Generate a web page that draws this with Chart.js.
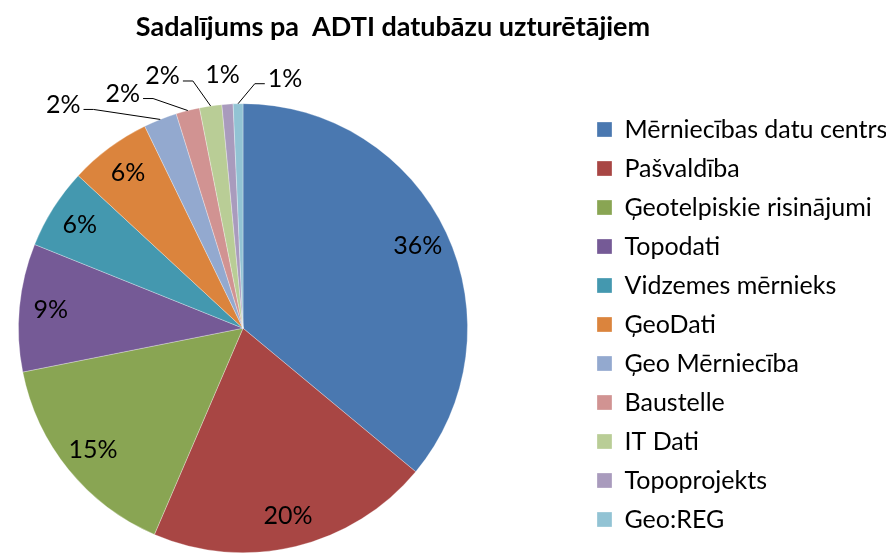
<!DOCTYPE html>
<html>
<head>
<meta charset="utf-8">
<title>Sadalījums pa ADTI datubāzu uzturētājiem</title>
<script src="https://cdn.jsdelivr.net/npm/chart.js"></script>
<style>
  html, body { margin: 0; padding: 0; background: #fff; }
  #wrap { width: 886px; height: 553px; }
</style>
</head>
<body>
<div id="wrap"><canvas id="pieChart"></canvas></div>

<script>
  // data (share of ADTI databases, %)
  const providers = ['Mērniecības datu centrs', 'Pašvaldība', 'Ģeotelpiskie risinājumi', 'Topodati',
    'Vidzemes mērnieks', 'ĢeoDati', 'Ģeo Mērniecība', 'Baustelle', 'IT Dati', 'Topoprojekts', 'Geo:REG'];
  const shares = [36, 20.4, 15.4, 9.2, 5.8, 5.9, 2.4, 1.7, 1.6, 0.8, 0.7];
  const shareLabels = ['36%', '20%', '15%', '9%', '6%', '6%', '2%', '2%', '2%', '1%', '1%'];

  const sliceColors = ['#4A78B0', '#A84644', '#89A553', '#755A96', '#4498AF', '#DB843D',
    '#93A9CF', '#D19392', '#B9CD96', '#A99BBD', '#92C3D4'];

  const FONT = 'Lato, "Open Sans", sans-serif';

  // where the small slice labels sit, relative to the slice's outer edge
  const outsideOffsets = [[-97, -15], [-65, -17], [-48, -30], [-5, -29], [47, -25]];

  const pctLabels = {
    id: 'pctLabels',
    afterDatasetsDraw(chart) {
      const ctx = chart.ctx;
      const arcs = chart.getDatasetMeta(0).data;
      ctx.save();
      ctx.font = '25px ' + FONT;
      ctx.fillStyle = '#000';
      ctx.strokeStyle = '#000';
      ctx.lineWidth = 1;
      ctx.textBaseline = 'middle';
      ctx.textAlign = 'center';
      arcs.forEach((arc, i) => {
        const p = arc.getProps(['x', 'y', 'outerRadius', 'startAngle', 'endAngle'], true);
        const mid = (p.startAngle + p.endAngle) / 2;
        const txt = shareLabels[i];
        if (shares[i] >= 5) {
          const r = p.outerRadius * 0.86;
          ctx.fillText(txt, p.x + Math.cos(mid) * r, p.y + Math.sin(mid) * r);
          return;
        }
        const off = outsideOffsets[i - 6];
        const ex = p.x + Math.cos(mid) * p.outerRadius;
        const ey = p.y + Math.sin(mid) * p.outerRadius;
        const lx = ex + off[0], ly = ey + off[1];
        ctx.fillText(txt, lx, ly);
        if (Math.hypot(off[0], off[1]) > 35) {
          const w = ctx.measureText(txt).width;
          const dir = off[0] < 0 ? 1 : -1;
          const sx = lx + dir * (w / 2 + 3), sy = ly + 5;
          ctx.beginPath();
          ctx.moveTo(sx, sy);
          ctx.lineTo(sx + dir * 10, sy);
          ctx.lineTo(ex, ey);
          ctx.stroke();
        }
      });
      ctx.restore();
    }
  };

  // keep the pie on the left like the original: reserve a wide legend column,
  // then move the legend and title to where they were
  const placeBoxes = {
    id: 'placeBoxes',
    beforeInit(chart) {
      const legend = chart.legend;
      const fit = legend.fit;
      legend.fit = function () {
        fit.call(this);
        this.width = 400;
      };
    },
    afterLayout(chart) {
      const lg = chart.legend;
      lg.left += 97; lg.right += 97;
      lg.top += 48; lg.bottom += 48;
      const tb = chart.titleBlock;
      tb.left -= 50; tb.right -= 50;
    }
  };

  const ctx = document.getElementById('pieChart').getContext('2d');
  new Chart(ctx, {
    type: 'pie',
    data: {
      labels: providers,
      datasets: [{
        data: shares,
        backgroundColor: sliceColors,
        borderColor: 'rgba(255,255,255,0.6)',
        borderWidth: 0.5
      }]
    },
    options: {
      responsive: true,
      maintainAspectRatio: false,
      animation: false,
      layout: { padding: 0 },
      plugins: {
        title: {
          display: true,
          text: 'Sadalījums pa  ADTI datubāzu uzturētājiem',
          color: '#000',
          font: { family: FONT, size: 27, weight: 'bold' },
          padding: { top: 11, bottom: 60 }
        },
        legend: {
          position: 'right',
          labels: {
            color: '#000',
            font: { family: FONT, size: 25 },
            boxWidth: 15,
            boxHeight: 15,
            padding: 14
          }
        },
        tooltip: { enabled: false }
      }
    },
    plugins: [pctLabels, placeBoxes]
  });
</script>
</body>
</html>
